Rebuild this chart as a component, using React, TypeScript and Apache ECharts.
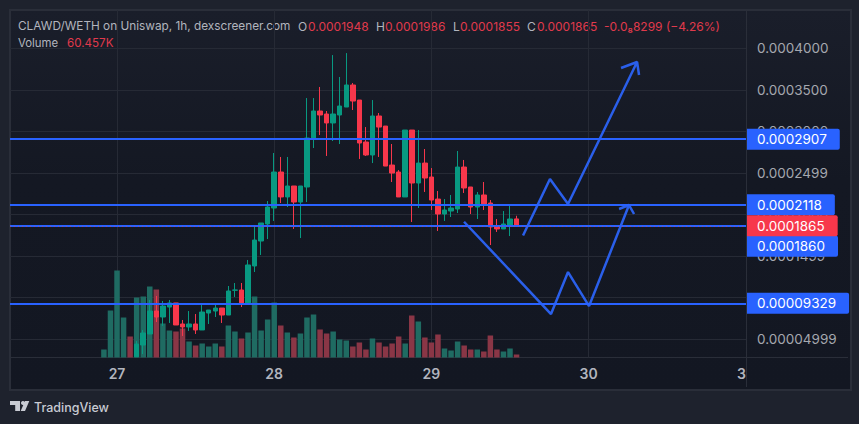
import { useEffect, useRef } from 'react'
import * as echarts from 'echarts'

// Prices are in units of 0.0000001 WETH, x is the hourly candle index
const OPENS = [290, 431, 564, 840, 768, 888, 937, 684, 648, 684, 612, 816, 840, 876, 792, 1090, 1093, 937, 1382, 1682, 1887, 2079, 2512, 2212, 2344, 2151, 2332, 2909, 3246, 3210, 3102, 3198, 3294, 3559, 3378, 2873, 2717, 3186, 3065, 2596, 2512, 2212, 3017, 2380, 2620, 2452, 2187, 2007, 2043, 2067, 2572, 2332, 2091, 2236, 2139, 1863, 1827, 1863, 1948]
const CLOSES = [443, 576, 840, 768, 900, 937, 672, 648, 684, 612, 828, 852, 876, 792, 1081, 1093, 937, 1394, 1694, 1899, 2091, 2512, 2212, 2344, 2151, 2344, 2921, 3246, 3198, 3102, 3210, 3306, 3559, 3366, 2861, 2717, 3186, 3053, 2584, 2500, 2212, 3017, 2380, 2620, 2440, 2175, 2007, 2055, 2079, 2572, 2320, 2091, 2236, 2127, 1851, 1827, 1887, 1947, 1865]
const LOWS = [290, 323, 564, 708, 660, 696, 672, 540, 600, 564, 612, 684, 768, 696, 792, 1009, 888, 937, 1309, 1514, 1706, 1923, 2139, 2091, 1827, 1718, 2151, 2801, 2957, 2705, 2885, 2849, 3294, 3258, 2669, 2705, 2620, 2693, 2584, 2392, 2212, 2212, 1911, 2079, 2272, 2055, 1803, 1923, 1971, 2019, 2260, 2007, 1947, 2055, 1634, 1791, 1827, 1742, 1855]
const HIGHS = [479, 612, 973, 1021, 961, 973, 937, 732, 840, 804, 912, 852, 925, 876, 1141, 1177, 1177, 1454, 1863, 1899, 2163, 2741, 2693, 2693, 2344, 2344, 3402, 3402, 3535, 3246, 3919, 3655, 3943, 3583, 3378, 3053, 3378, 3222, 3065, 2849, 2536, 3017, 3017, 3017, 2789, 2560, 2284, 2187, 2236, 2765, 2657, 2332, 2272, 2392, 2175, 1947, 2043, 2127, 1986]
const FIRST_CANDLE = 5

// Volume in thousands, starts five hours before the first candle
const VOLUMES = [160, 940, 1740, 800, 420, 1200, 1220, 1420, 1360, 680, 540, 520, 580, 320, 240, 280, 220, 280, 220, 640, 520, 380, 500, 1220, 540, 760, 1100, 640, 500, 400, 480, 800, 860, 560, 480, 520, 360, 340, 220, 300, 160, 380, 300, 220, 280, 420, 280, 840, 720, 400, 300, 460, 180, 140, 320, 240, 160, 160, 120, 440, 160, 120, 180, 60]
const EARLY_VOLUME_UP = [true, true, true, true, false]

const PRICE_TICKS = [500, 1000, 1500, 2000, 2500, 3000, 3500, 4000]
const PRICE_LABELS = ['0.00004999', '0.00009999', '0.0001499', '0.0002000', '0.0002499', '0.0003000', '0.0003500', '0.0004000']

const DAY_TICKS = [2, 26, 50, 74]
const DAY_LABEL_VALUES = [2, 26, 50, 74, 97.34]
const DAY_LABELS = ['27', '28', '29', '30', '3']

const LOWER_ARROW = [[54.98, 1914], [68.26, 804], [70.86, 1309], [74.07, 900], [80.17, 2115], [78.65, 2067], [80.17, 2115], [80.94, 2007]]
const UPPER_ARROW = [[63.99, 1748], [68.1, 2428], [70.86, 2127], [81.4, 3835], [78.95, 3763], [81.4, 3835], [81.7, 3679]]

const LEVELS = [
  { value: 2907, label: '0.0002907', shift: 0 },
  { value: 2118, label: '0.0002118', shift: 0 },
  { value: 1860, label: '0.0001860', shift: 20 },
  { value: 932.9, label: '0.00009329', shift: 0 },
]
const LAST_PRICE = { value: 1865, label: '0.0001865' }

const BLUE = '#2962FF'
const RED = '#F7374B'
const HEADER_RED = '#E03A4C'
const TEAL = '#089981'
const MUTED = '#B2B5BE'
const FONT = 'Inter, "Noto Sans", sans-serif'

// Header pieces: text, left edge, colour, font size
const HEADER_TOP = [
  { text: 'CLAWD/WETH on Uniswap, 1h, dexscreener.com', x: 18, color: MUTED, size: 11.8 },
  { text: 'O', x: 298, color: MUTED, size: 12 },
  { text: '0.0001948', x: 308, color: HEADER_RED, size: 12 },
  { text: 'H', x: 376, color: MUTED, size: 12 },
  { text: '0.0001986', x: 385, color: HEADER_RED, size: 12 },
  { text: 'L', x: 453, color: MUTED, size: 12 },
  { text: '0.0001855', x: 460, color: HEADER_RED, size: 12 },
  { text: 'C', x: 527, color: MUTED, size: 12 },
  { text: '0.0001865', x: 537, color: HEADER_RED, size: 12 },
  { text: '-0.0₈8299 (−4.26%)', x: 604, color: HEADER_RED, size: 12 },
]
const HEADER_VOLUME = [
  { text: 'Volume', x: 18, color: MUTED, size: 11.4 },
  { text: '60.457K', x: 67, color: HEADER_RED, size: 11.6 },
]

const LOGO_PATH = 'M0 0h10v10H5.2V4H0z M13 0a2 2 0 1 1-.01 0z M19.3 0L15 10H10.7L15 0z'

function levelLine(value: number, label: string, shift: number, tagColor: string, lineStyle: object) {
  return {
    yAxis: value,
    lineStyle,
    label: {
      show: true,
      position: 'end' as const,
      distance: 1,
      offset: [0, shift],
      formatter: label,
      color: '#ffffff',
      fontFamily: FONT,
      fontSize: 13.5,
      lineHeight: 14,
      backgroundColor: tagColor,
      padding: [3.5, 13, 3.5, 10],
      borderRadius: [0, 2, 2, 0],
    },
  }
}

function buildOption(): echarts.EChartsOption {
  const candles = OPENS.map((o, i) => [FIRST_CANDLE + i, o, CLOSES[i], LOWS[i], HIGHS[i]])
  const volumes = VOLUMES.map((v, i) => {
    const up = i < FIRST_CANDLE ? EARLY_VOLUME_UP[i] : CLOSES[i - FIRST_CANDLE] >= OPENS[i - FIRST_CANDLE]
    return { value: [i, v], itemStyle: { color: up ? '#1F6B62' : '#8A3646' } }
  })

  const headerTexts = [
    ...HEADER_TOP.map((h) => ({ ...h, y: 26 })),
    ...HEADER_VOLUME.map((h) => ({ ...h, y: 42.5 })),
  ].map((h) => ({
    type: 'text' as const,
    x: h.x,
    y: h.y,
    style: { text: h.text, fill: h.color, font: `${h.size}px ${FONT}`, textVerticalAlign: 'middle' as const },
  }))

  return {
    animation: false,
    backgroundColor: 'transparent',
    grid: { left: 10, right: 113, top: 10, bottom: 66.5 },
    xAxis: {
      type: 'value',
      min: -14.34,
      max: 98.03,
      axisLine: { show: false },
      axisTick: { show: false, customValues: DAY_TICKS },
      splitLine: { show: true, lineStyle: { color: '#262A35', width: 1 } },
      axisLabel: {
        customValues: DAY_LABEL_VALUES,
        margin: 9,
        color: MUTED,
        fontFamily: FONT,
        fontSize: 14,
        fontWeight: 600,
        formatter: (v: number) => DAY_LABELS[DAY_LABEL_VALUES.indexOf(v)] ?? '',
      },
    },
    yAxis: [
      {
        type: 'value',
        position: 'right',
        min: 281,
        max: 4461,
        axisLine: { show: false },
        axisTick: { show: false, customValues: PRICE_TICKS },
        splitLine: { show: true, lineStyle: { color: '#262A35', width: 1 } },
        axisLabel: {
          customValues: PRICE_TICKS,
          margin: 11,
          color: '#A5A8AF',
          fontFamily: FONT,
          fontSize: 13.5,
          formatter: (v: number) => PRICE_LABELS[PRICE_TICKS.indexOf(v)] ?? '',
        },
      },
      { type: 'value', show: false, min: 0, max: 6950, splitLine: { show: false } },
    ],
    series: [
      {
        name: 'Volume',
        type: 'bar',
        yAxisIndex: 1,
        barWidth: 5.5,
        z: 1,
        data: volumes,
      },
      {
        name: 'CLAWD/WETH',
        type: 'candlestick',
        barWidth: 5,
        z: 2,
        itemStyle: { color: TEAL, color0: RED, borderColor: TEAL, borderColor0: RED, borderWidth: 1 },
        data: candles,
      },
      {
        name: 'Lower path',
        type: 'line',
        symbol: 'none',
        z: 3,
        lineStyle: { color: '#2A5FEA', width: 2.5 },
        data: LOWER_ARROW,
        markLine: {
          silent: true,
          symbol: 'none',
          precision: 1,
          data: [
            ...LEVELS.map((l) => levelLine(l.value, l.label, l.shift, BLUE, { color: BLUE, width: 2.2, type: 'solid' })),
            // the last price runs as faint red dots over the 0.0001860 level
            levelLine(LAST_PRICE.value, LAST_PRICE.label, 0, RED, { color: 'rgba(247,55,75,0.55)', width: 1, type: [1, 3] }),
          ],
        },
      },
      {
        name: 'Upper path',
        type: 'line',
        symbol: 'none',
        z: 3,
        lineStyle: { color: '#2A5FEA', width: 2.5 },
        data: UPPER_ARROW,
      },
    ],
    graphic: [
      ...headerTexts,
      {
        type: 'logo',
        x: 10,
        y: 401,
        style: { fill: '#C8CBD3' },
      },
      {
        type: 'text',
        x: 34,
        y: 407,
        style: { text: 'TradingView', fill: '#C8CBD3', font: `500 12.5px ${FONT}`, textVerticalAlign: 'middle' },
      },
    ],
  } as echarts.EChartsOption
}

echarts.graphic.registerShape('logo', echarts.graphic.extendPath(LOGO_PATH, {}))

export default function App() {
  const chartEl = useRef<HTMLDivElement>(null)

  useEffect(() => {
    if (!chartEl.current) return
    const chart = echarts.init(chartEl.current, null, { renderer: 'svg' })
    chart.setOption(buildOption())
    return () => chart.dispose()
  }, [])

  return (
    <div style={{ position: 'fixed', left: 0, top: 0, width: 859, height: 424, background: '#1E222D', overflow: 'hidden' }}>
      <div
        style={{
          position: 'absolute',
          left: 9,
          top: 9,
          width: 839,
          height: 378,
          border: '2px solid #2A2E39',
          background: 'linear-gradient(180deg, #1A1E2A 0%, #141823 45%, #131722 100%)',
        }}
      />
      <div style={{ position: 'absolute', left: 11, top: 357, width: 837, height: 1, background: '#2A2E39' }} />
      <div style={{ position: 'absolute', left: 746, top: 11, width: 1, height: 376, background: '#2A2E39' }} />
      <div ref={chartEl} style={{ position: 'absolute', left: 0, top: 0, width: 859, height: 424 }} />
    </div>
  )
}
